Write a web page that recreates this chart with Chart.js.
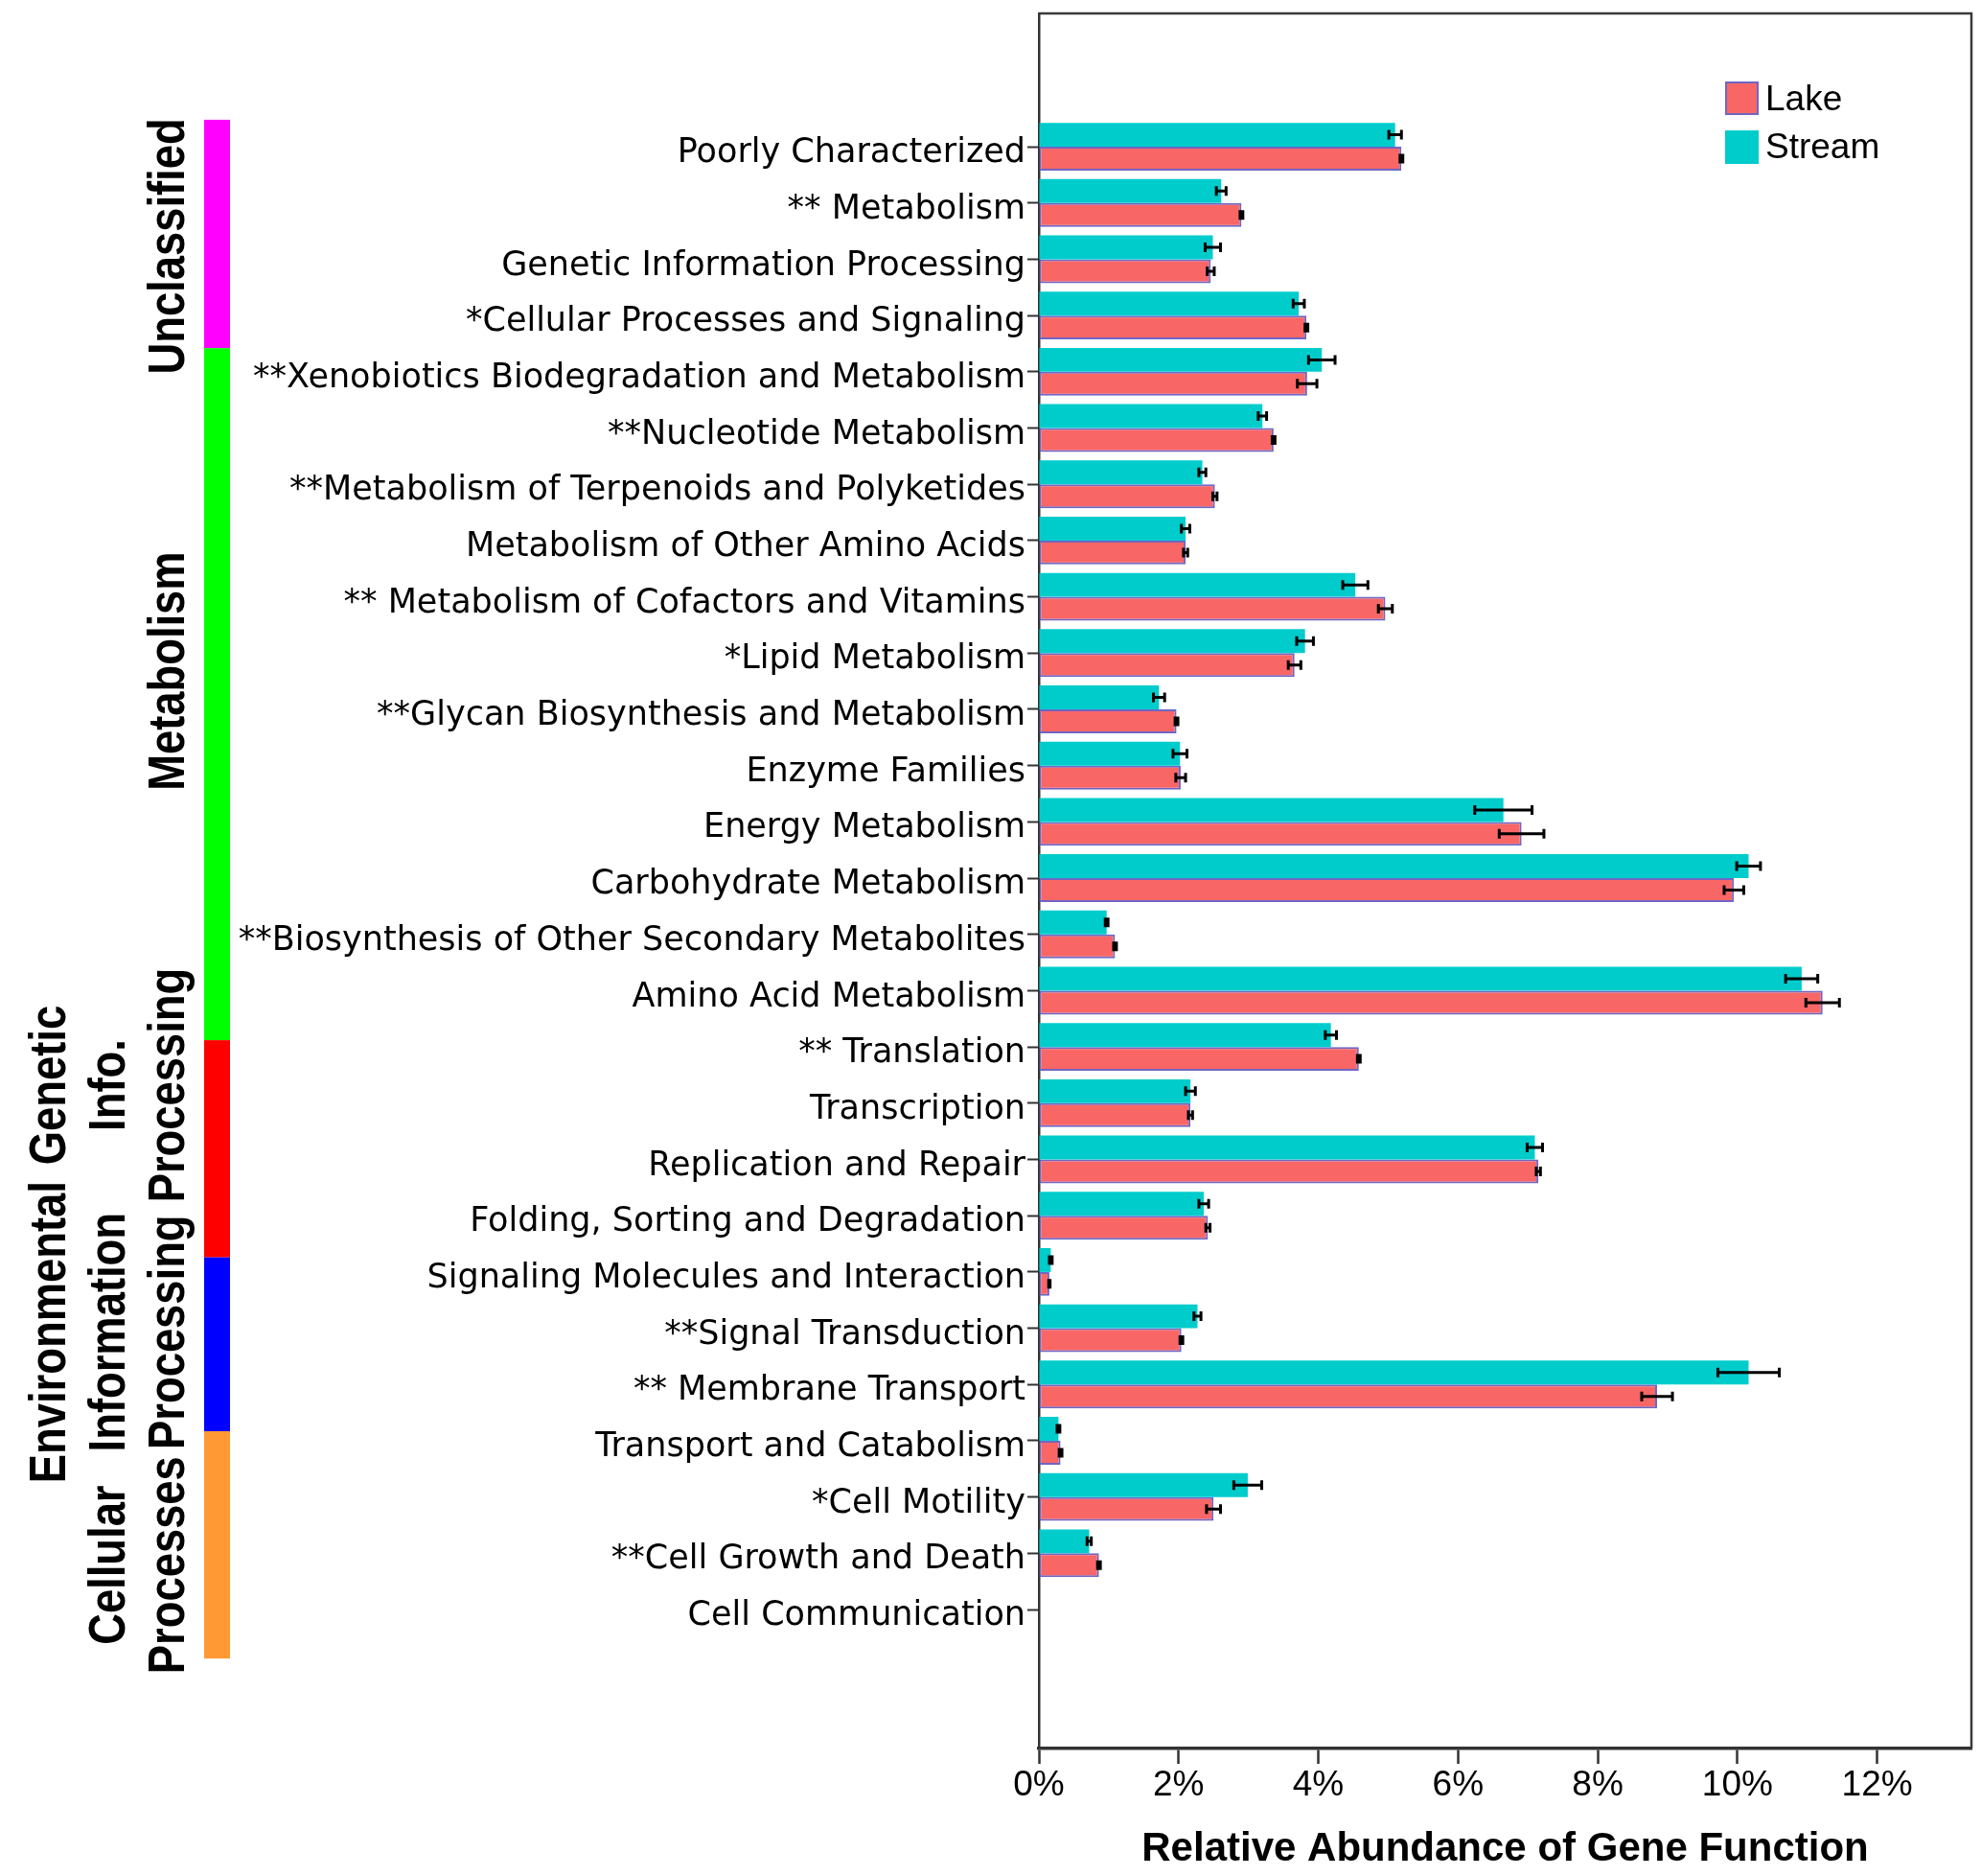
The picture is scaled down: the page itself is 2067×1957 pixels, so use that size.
<!DOCTYPE html>
<html>
<head>
<meta charset="utf-8">
<script src="https://cdn.jsdelivr.net/npm/chart.js@4/dist/chart.umd.min.js"></script>
<style>
  body { margin: 0; background: #fff; overflow: hidden; }
  canvas { display: block; }
</style>
</head>
<body>
<canvas id="myChart" width="2067" height="1957"></canvas>
<script>
// KEGG level-2 categories, top to bottom
const categories = [
  'Poorly Characterized',
  '** Metabolism',
  'Genetic Information Processing',
  '*Cellular Processes and Signaling',
  '**Xenobiotics Biodegradation and Metabolism',
  '**Nucleotide Metabolism',
  '**Metabolism of Terpenoids and Polyketides',
  'Metabolism of Other Amino Acids',
  '** Metabolism of Cofactors and Vitamins',
  '*Lipid Metabolism',
  '**Glycan Biosynthesis and Metabolism',
  'Enzyme Families',
  'Energy Metabolism',
  'Carbohydrate Metabolism',
  '**Biosynthesis of Other Secondary Metabolites',
  'Amino Acid Metabolism',
  '** Translation',
  'Transcription',
  'Replication and Repair',
  'Folding, Sorting and Degradation',
  'Signaling Molecules and Interaction',
  '**Signal Transduction',
  '** Membrane Transport',
  'Transport and Catabolism',
  '*Cell Motility',
  '**Cell Growth and Death',
  'Cell Communication'
];

// relative abundance (%)
const lakeValues   = [5.19, 2.90, 2.46, 3.83, 3.84, 3.36, 2.52, 2.10, 4.96, 3.66, 1.97, 2.03, 6.91, 9.95, 1.09, 11.22, 4.58, 2.17, 7.15, 2.42, 0.15, 2.04, 8.85, 0.31, 2.50, 0.86, 0];
const streamValues = [5.10, 2.61, 2.49, 3.72, 4.05, 3.20, 2.34, 2.10, 4.53, 3.81, 1.72, 2.02, 6.65, 10.16, 0.97, 10.92, 4.18, 2.17, 7.10, 2.36, 0.17, 2.27, 10.16, 0.28, 2.99, 0.72, 0];

// error bar half widths (%)
const lakeErrors   = [0.02, 0.02, 0.05, 0.02, 0.14, 0.02, 0.03, 0.03, 0.10, 0.09, 0.02, 0.07, 0.32, 0.14, 0.02, 0.24, 0.02, 0.03, 0.03, 0.03, 0.01, 0.02, 0.22, 0.02, 0.10, 0.02, 0];
const streamErrors = [0.09, 0.07, 0.11, 0.08, 0.19, 0.06, 0.05, 0.06, 0.18, 0.12, 0.08, 0.10, 0.41, 0.17, 0.02, 0.23, 0.08, 0.07, 0.11, 0.07, 0.02, 0.05, 0.44, 0.02, 0.20, 0.03, 0];

const xTicks = [0, 2, 4, 6, 8, 10, 12];

// level-1 groups: colour strip edges and label centre, in row units
const groupLines   = [['Unclassified'], ['Metabolism'], ['Genetic', 'Info.', 'Processing'],
                      ['Environmental', 'Information', 'Processing'], ['Cellular', 'Processes']];
const groupColors  = ['#FF00FF', '#00FF00', '#FF0000', '#0000FF', '#FF9933'];
const groupEdges   = [-0.48, 3.58, 15.88, 19.74, 22.83, 26.87];
const groupCenters = [1.77, 9.32, 16.68, 21.07, 25.21];

const lakeColor = '#F96666';
const lakeBorder = '#6F66C4';
const streamColor = '#00CCCC';

const yMin = -2.37, yMax = 28.47;

const toPoints = (vals) => vals.map((v, i) => ({ x: v, y: i }));

// error bars
const errorBars = {
  id: 'errorBars',
  afterDatasetsDraw(chart) {
    const c = chart.ctx;
    const xs = chart.scales.x;
    const errs = [streamErrors, lakeErrors];
    c.save();
    c.strokeStyle = '#000';
    c.lineWidth = 3;
    chart.data.datasets.forEach((ds, d) => {
      chart.getDatasetMeta(d).data.forEach((bar, i) => {
        const v = ds.data[i].x, e = errs[d][i];
        if (!v && !e) return;
        const x1 = xs.getPixelForValue(v - e), x2 = xs.getPixelForValue(v + e);
        const y = bar.y;
        c.beginPath();
        c.moveTo(x1, y); c.lineTo(x2, y);
        c.moveTo(x1, y - 5); c.lineTo(x1, y + 5);
        c.moveTo(x2, y - 5); c.lineTo(x2, y + 5);
        c.stroke();
      });
    });
    c.restore();
  }
};

// box round the plot, group strips, legend
const decorations = {
  id: 'decorations',
  afterDraw(chart) {
    const c = chart.ctx;
    const a = chart.chartArea;
    const ys = chart.scales.y;
    c.save();

    c.strokeStyle = '#3a3a3a';
    c.lineWidth = 2.5;
    c.beginPath();
    c.moveTo(a.left, a.top); c.lineTo(a.right, a.top); c.lineTo(a.right, a.bottom);
    c.stroke();

    for (let g = 0; g < groupColors.length; g++) {
      const y1 = ys.getPixelForValue(groupEdges[g]);
      const y2 = ys.getPixelForValue(groupEdges[g + 1]);
      c.fillStyle = groupColors[g];
      c.fillRect(213, y1, 27, y2 - y1);
    }

    const cols = [53, 115, 177];
    c.fillStyle = '#000';
    c.font = 'bold 54px "Liberation Sans", Arial, sans-serif';
    c.textAlign = 'center';
    c.textBaseline = 'middle';
    groupLines.forEach((lines, g) => {
      const yc = ys.getPixelForValue(groupCenters[g]);
      lines.forEach((t, k) => {
        const x = cols[cols.length - lines.length + k];
        c.save();
        c.translate(x, yc);
        c.rotate(-Math.PI / 2);
        // condensed look
        c.fillText(t, 0, 0, c.measureText(t).width * 0.84);
        c.restore();
      });
    });

    // legend
    const bx = a.right - 257;
    c.fillStyle = lakeColor;
    c.fillRect(bx, 85, 35, 35);
    c.strokeStyle = lakeBorder;
    c.lineWidth = 2;
    c.strokeRect(bx + 1, 86, 33, 33);
    c.fillStyle = streamColor;
    c.fillRect(bx, 136, 35, 35);
    c.fillStyle = '#000';
    c.font = '37px "Liberation Sans", Arial, sans-serif';
    c.textAlign = 'left';
    c.fillText('Lake', bx + 42, 105);
    c.fillText('Stream', bx + 42, 155);

    c.restore();
  }
};

const ctx = document.getElementById('myChart');

const myChart = new Chart(ctx, {
  type: 'bar',
  data: {
    datasets: [
      {
        label: 'Stream',
        data: toPoints(streamValues),
        backgroundColor: streamColor,
        borderWidth: 0,
      },
      {
        label: 'Lake',
        data: toPoints(lakeValues),
        backgroundColor: lakeColor,
        borderColor: lakeBorder,
        borderWidth: 2,
        borderSkipped: false,
      }
    ]
  },
  options: {
    indexAxis: 'y',
    responsive: false,
    devicePixelRatio: 1,
    animation: false,
    categoryPercentage: 0.85,
    barPercentage: 1.0,
    layout: { padding: { top: 14, right: 10, left: 0, bottom: 0 } },
    plugins: {
      legend: { display: false },
      tooltip: { enabled: false },
    },
    scales: {
      y: {
        type: 'linear',
        reverse: true,
        offset: false,
        bounds: 'data',
        min: yMin,
        max: yMax,
        afterBuildTicks: (scale) => {
          scale.ticks = categories.map((_, i) => ({ value: i }));
          scale.min = yMin;
          scale.max = yMax;
        },
        afterFit: (scale) => {
          scale.width = 1084;
          scale.paddingTop = 0;
          scale.paddingBottom = 0;
        },
        ticks: {
          autoSkip: false,
          padding: 2,
          labelOffset: 7,
          color: '#000',
          font: { family: '"DejaVu Sans", sans-serif', size: 35 },
          callback: (value) => categories[value],
        },
        grid: {
          offset: false,
          drawOnChartArea: false,
          tickLength: 12,
          tickWidth: 2,
          tickColor: '#333',
        },
        border: { color: '#333', width: 2.5 },
      },
      x: {
        type: 'linear',
        min: 0,
        max: 13.35,
        afterBuildTicks: (scale) => { scale.ticks = xTicks.map((v) => ({ value: v })); },
        afterFit: (scale) => { scale.height = 133; },
        ticks: {
          padding: 1,
          color: '#000',
          font: { family: '"Liberation Sans", Arial, sans-serif', size: 37 },
          callback: (value) => value + '%',
        },
        grid: {
          drawOnChartArea: false,
          tickLength: 16,
          tickWidth: 2.5,
          tickColor: '#333',
        },
        border: { color: '#333', width: 3.5 },
        title: {
          display: true,
          text: 'Relative Abundance of Gene Function',
          color: '#000',
          font: { family: '"Liberation Sans", Arial, sans-serif', size: 42, weight: 'bold', lineHeight: 0.95 },
          padding: { top: 0, bottom: 8 },
        },
      }
    }
  },
  plugins: [errorBars, decorations],
});
</script>
</body>
</html>
